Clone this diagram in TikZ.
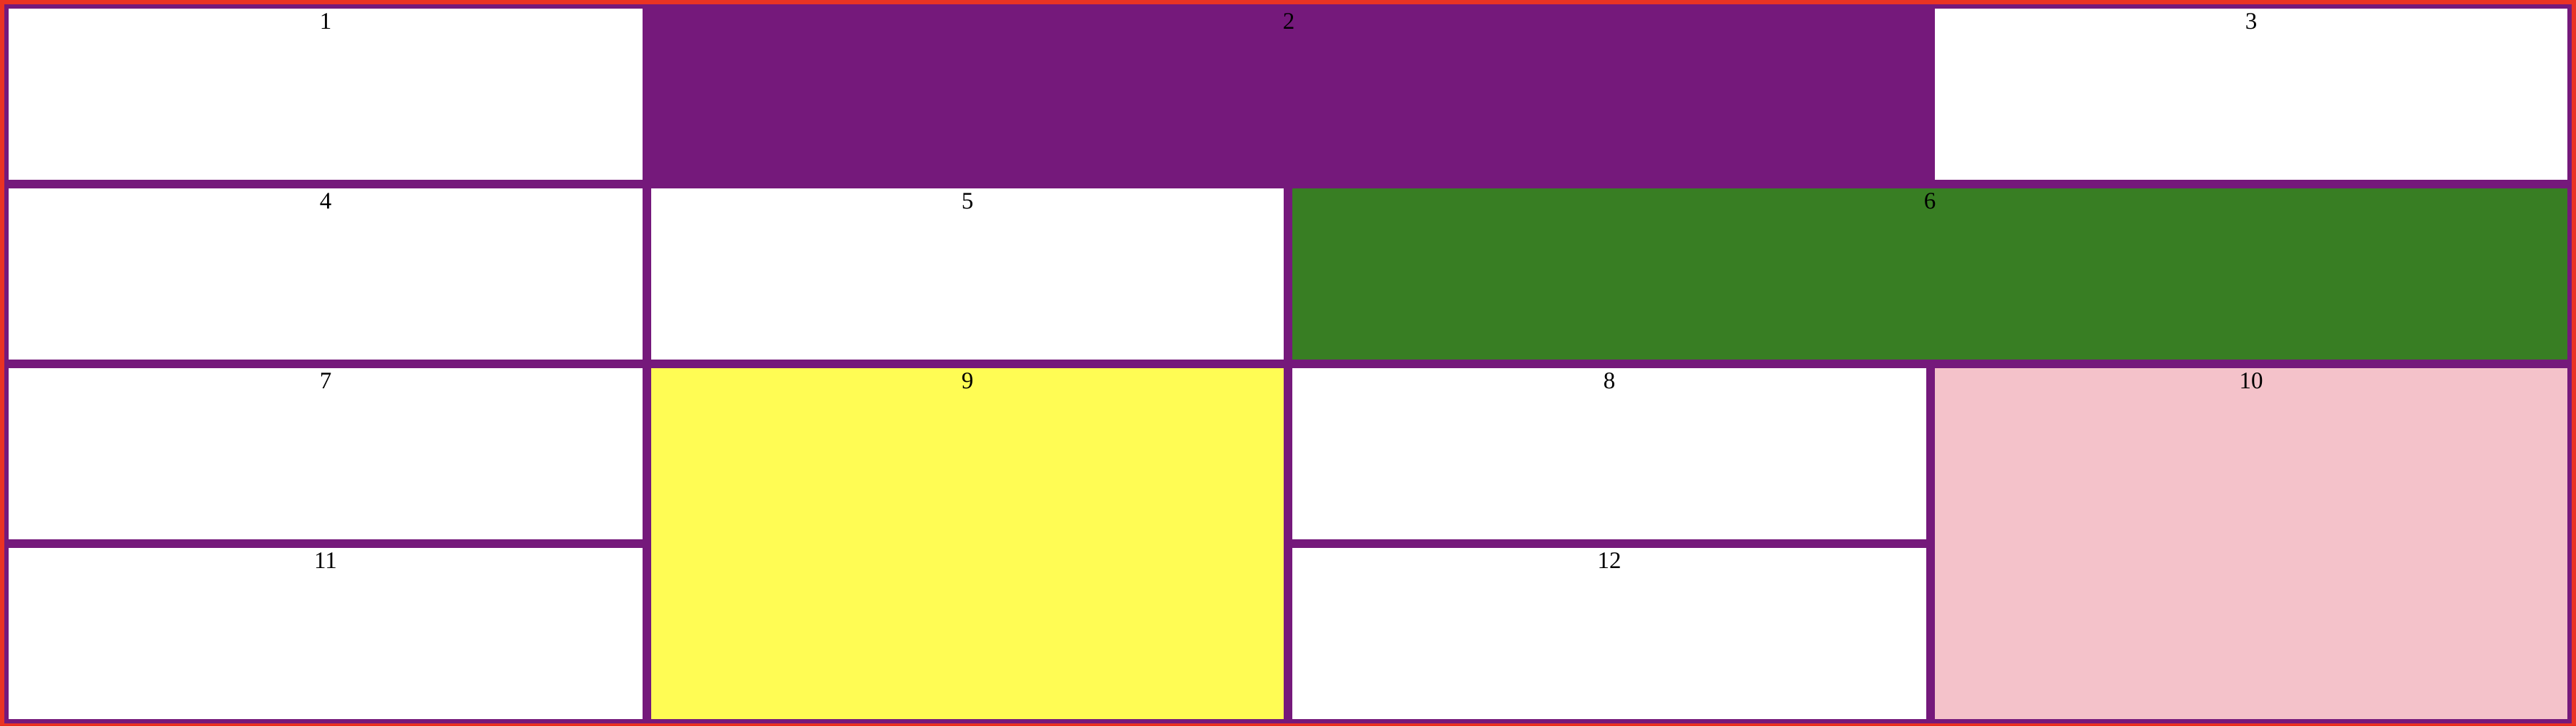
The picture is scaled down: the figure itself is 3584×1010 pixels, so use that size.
\documentclass[tikz,border=0pt]{standalone}
\usepackage{fontspec}
\setmainfont{Liberation Serif}
\definecolor{outerred}{RGB}{234,51,35}
\definecolor{gridpurple}{RGB}{117,25,123}
\definecolor{cellgreen}{RGB}{56,126,35}
\definecolor{cellyellow}{RGB}{255,252,84}
\definecolor{cellpink}{RGB}{244,194,202}
\tikzset{
  cell/.style={draw=none, inner sep=0pt, outer sep=0pt, anchor=north west, fill=white},
  lbl/.style={inner sep=0pt, anchor=base, font=\fontsize{33}{40}\selectfont, text=black}
}
\begin{document}
\begin{tikzpicture}[x=1pt,y=-1pt]
\useasboundingbox (0,0) rectangle (3584,1010);
\fill[outerred] (0,0) rectangle (3584,1010);
\fill[gridpurple] (6,6) rectangle (3578,1006);
% row 1
\node[cell, minimum width=882pt, minimum height=238pt] (c1) at (12,12) {};
\node[cell, fill=gridpurple, minimum width=1774pt, minimum height=238pt] (c2) at (906,12) {};
\node[cell, minimum width=880pt, minimum height=238pt] (c3) at (2692,12) {};
% row 2
\node[cell, minimum width=882pt, minimum height=238pt] (c4) at (12,262) {};
\node[cell, minimum width=880pt, minimum height=238pt] (c5) at (906,262) {};
\node[cell, fill=cellgreen, minimum width=1774pt, minimum height=238pt] (c6) at (1798,262) {};
% row 3-4
\node[cell, minimum width=882pt, minimum height=238pt] (c7) at (12,512) {};
\node[cell, fill=cellyellow, minimum width=880pt, minimum height=488pt] (c9) at (906,512) {};
\node[cell, minimum width=882pt, minimum height=238pt] (c8) at (1798,512) {};
\node[cell, fill=cellpink, minimum width=880pt, minimum height=488pt] (c10) at (2692,512) {};
\node[cell, minimum width=882pt, minimum height=238pt] (c11) at (12,762) {};
\node[cell, minimum width=882pt, minimum height=238pt] (c12) at (1798,762) {};
% labels
\node[lbl] (l1) at ([yshift=-28pt]c1.north) {1};
\node[lbl] (l2) at ([yshift=-28pt]c2.north) {2};
\node[lbl] (l3) at ([yshift=-28pt]c3.north) {3};
\node[lbl] (l4) at ([yshift=-28pt]c4.north) {4};
\node[lbl] (l5) at ([yshift=-28pt]c5.north) {5};
\node[lbl] (l6) at ([yshift=-28pt]c6.north) {6};
\node[lbl] (l7) at ([yshift=-28pt]c7.north) {7};
\node[lbl] (l9) at ([yshift=-28pt]c9.north) {9};
\node[lbl] (l8) at ([yshift=-28pt]c8.north) {8};
\node[lbl] (l10) at ([yshift=-28pt]c10.north) {10};
\node[lbl] (l11) at ([yshift=-28pt]c11.north) {11};
\node[lbl] (l12) at ([yshift=-28pt]c12.north) {12};
\end{tikzpicture}
\end{document}
